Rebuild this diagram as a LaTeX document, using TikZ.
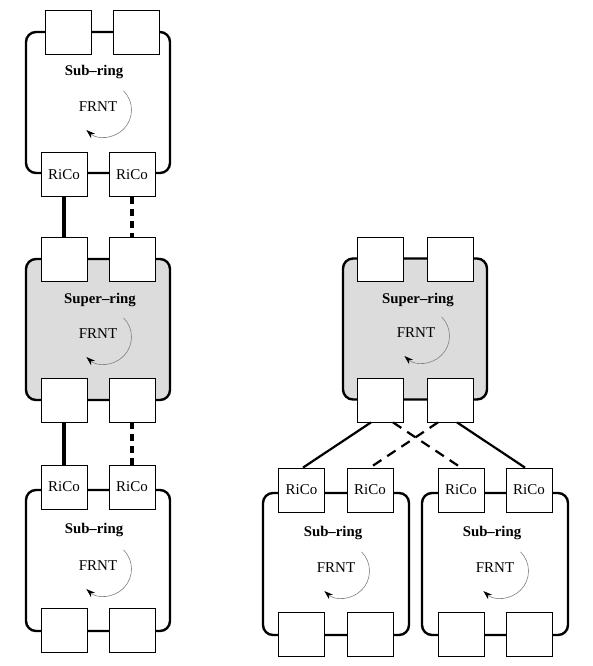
\documentclass[tikz,border=0pt]{standalone}
\usepackage{fontspec}
\setmainfont{Liberation Serif}
\usetikzlibrary{arrows.meta}
\definecolor{superfill}{HTML}{DCDCDC}
\definecolor{spingray}{HTML}{808080}
\tikzset{
  ring/.style={draw, line width=2.4pt, rounded corners=10pt,
               minimum width=144pt, minimum height=141pt, inner sep=0pt},
  subring/.style={ring, fill=white},
  superring/.style={ring, fill=superfill},
  port/.style={draw, fill=white, line width=0.8pt, minimum width=46pt,
               minimum height=44pt, inner sep=0pt, font=\fontsize{15}{17}\selectfont},
  ringname/.style={font=\fontsize{14.8}{17}\selectfont\bfseries, inner sep=1pt},
  frnt/.style={font=\fontsize{15}{17}\selectfont, inner sep=1pt},
  spin/.style={draw=spingray, line width=0.6pt, -{Stealth[black, length=9pt, width=6pt]}},
  link/.style={line width=3.6pt},
  linkdash/.style={line width=3.6pt, dash pattern=on 7pt off 5pt},
  cross/.style={line width=2.2pt},
  crossdash/.style={line width=2.2pt, dash pattern=on 10pt off 7pt},
}

\begin{document}
\begin{tikzpicture}[x=1pt, y=1pt]
    \useasboundingbox (0,0) rectangle (592,-666);

    % left column: sub-ring / super-ring / sub-ring
    \node[subring] (sa) at (98,-102.5) {};
    \node[port] (a1) at (68,-32) {};
    \node[port] (a2) at (136,-32) {};
    \node[port] (ra1) at (64,-174.5) {RiCo};
    \node[port] (ra2) at (132,-174.5) {RiCo};
    \node[ringname] (na) at (94,-72) {Sub--ring};
    \node[frnt] (fa) at (98,-107) {FRNT};
    \draw[spin] ([shift={(6.5,-3)}]fa.center) ++(45:27) arc[start angle=45, end angle=-132, radius=27];

    \node[superring] (sl) at (98,-329.5) {};
    \node[port] (l1) at (64,-259.5) {};
    \node[port] (l2) at (132,-259.5) {};
    \node[port] (l3) at (64,-400) {};
    \node[port] (l4) at (132,-400) {};
    \node[ringname] (nl) at (100,-300) {Super--ring};
    \node[frnt] (fl) at (98,-334) {FRNT};
    \draw[spin] ([shift={(6.5,-3)}]fl.center) ++(45:27) arc[start angle=45, end angle=-132, radius=27];

    \node[subring] (sb) at (98,-560.5) {};
    \node[port] (rb1) at (64,-487) {RiCo};
    \node[port] (rb2) at (132,-487) {RiCo};
    \node[port] (b1) at (64,-630.5) {};
    \node[port] (b2) at (132,-630.5) {};
    \node[ringname] (nb) at (94,-530) {Sub--ring};
    \node[frnt] (fb) at (98,-566) {FRNT};
    \draw[spin] ([shift={(6.5,-3)}]fb.center) ++(45:27) arc[start angle=45, end angle=-132, radius=27];

    \draw[link] (ra1.south) -- (l1.north);
    \draw[linkdash] (ra2.south) -- (l2.north);
    \draw[link] (l3.south) -- (rb1.north);
    \draw[linkdash] (l4.south) -- (rb2.north);

    % right side: one super-ring over two sub-rings
    \node[superring] (sr) at (415,-329) {};
    \node[port] (r1) at (380.5,-259.5) {};
    \node[port] (r2) at (450,-259.5) {};
    \node[port] (r3) at (380.5,-400) {};
    \node[port] (r4) at (450,-400) {};
    \node[ringname] (nr) at (418,-300) {Super--ring};
    \node[frnt] (fr) at (416,-333) {FRNT};
    \draw[spin] ([shift={(6.5,-3)}]fr.center) ++(45:27) arc[start angle=45, end angle=-132, radius=27];

    \node[subring, minimum width=146pt, minimum height=142pt] (sc) at (336,-564) {};
    \node[port] (rc1) at (301.5,-490) {RiCo};
    \node[port] (rc2) at (370,-490) {RiCo};
    \node[port] (c1) at (301.5,-634.5) {};
    \node[port] (c2) at (370,-634.5) {};
    \node[ringname] (nc) at (333,-533) {Sub--ring};
    \node[frnt] (fc) at (336,-568) {FRNT};
    \draw[spin] ([shift={(6.5,-3)}]fc.center) ++(45:27) arc[start angle=45, end angle=-132, radius=27];

    \node[subring, minimum width=146pt, minimum height=142pt] (sd) at (495,-564) {};
    \node[port] (rd1) at (461,-490) {RiCo};
    \node[port] (rd2) at (529,-490) {RiCo};
    \node[port] (d1) at (461,-634.5) {};
    \node[port] (d2) at (529,-634.5) {};
    \node[ringname] (nd) at (492,-533) {Sub--ring};
    \node[frnt] (fd) at (495,-568) {FRNT};
    \draw[spin] ([shift={(6.5,-3)}]fd.center) ++(45:27) arc[start angle=45, end angle=-132, radius=27];

    \draw[cross] ([xshift=-9.5pt]r3.south) -- ([xshift=1.5pt]rc1.north);
    \draw[crossdash] ([xshift=12.5pt]r3.south) -- (rd1.north);
    \draw[crossdash] ([xshift=-12pt]r4.south) -- (rc2.north);
    \draw[cross] ([xshift=7pt]r4.south) -- ([xshift=-4pt]rd2.north);
  \end{tikzpicture}
\end{document}
